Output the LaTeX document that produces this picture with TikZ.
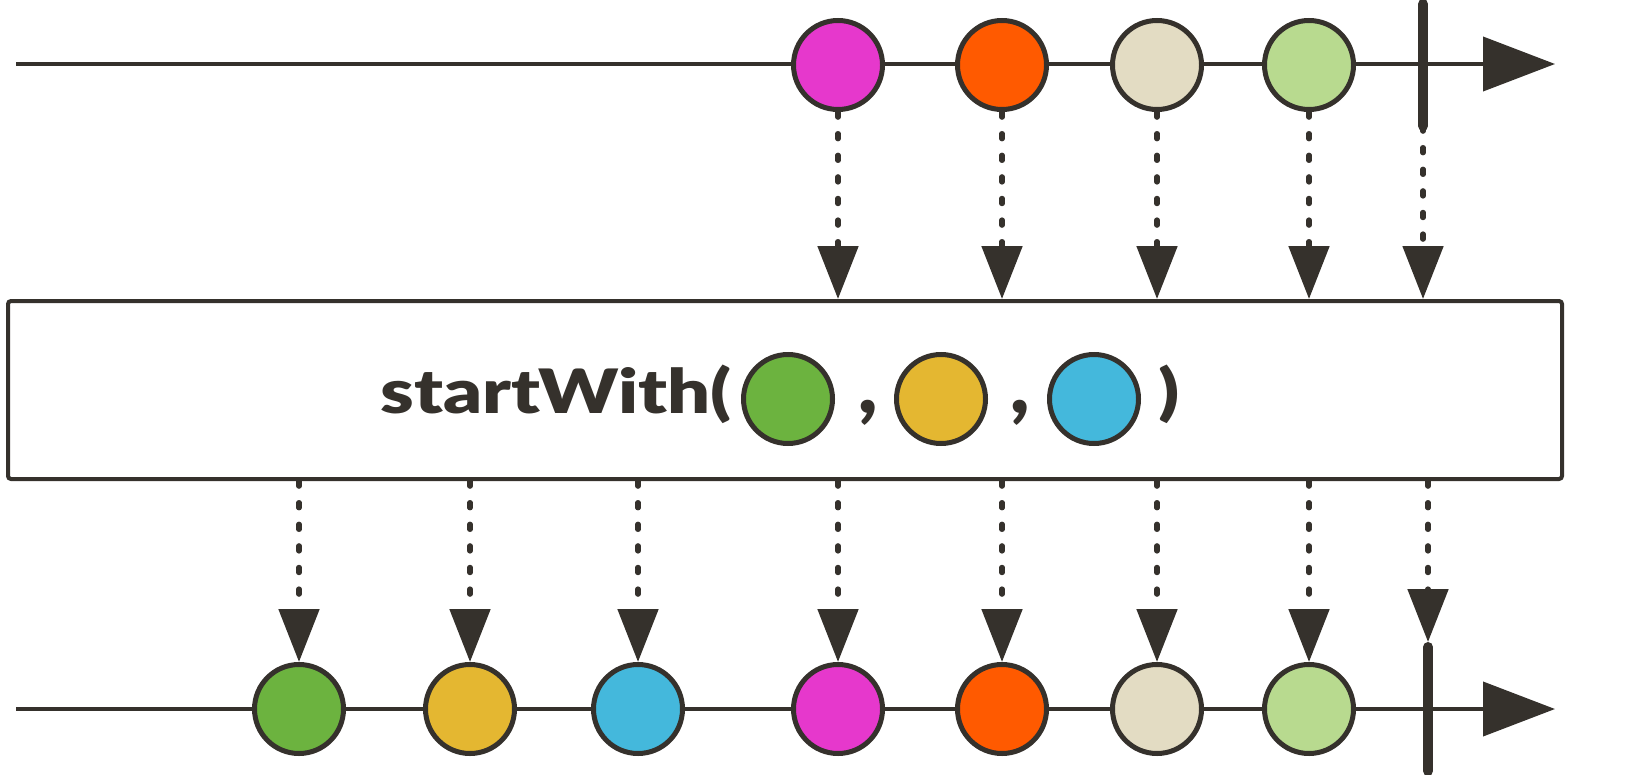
\documentclass[tikz,border=0pt]{standalone}
\usepackage{fontspec}
\setsansfont{Lato}[BoldFont={Lato Black}]
\usetikzlibrary{arrows.meta,positioning,calc}
\definecolor{ink}{HTML}{35312C}
\definecolor{pinkball}{HTML}{E638CC}
\definecolor{orangeball}{HTML}{FF5A00}
\definecolor{sandball}{HTML}{E3DCC3}
\definecolor{limeball}{HTML}{B8DA8F}
\definecolor{greenball}{HTML}{6CB33F}
\definecolor{yellowball}{HTML}{E4B731}
\definecolor{blueball}{HTML}{44B8DC}
\begin{document}
\begin{tikzpicture}[x=0.5pt,y=-0.5pt,ink,ball node/.style={circle,draw=ink,line width=2.5pt,minimum size=44.5pt,inner sep=0pt},time line/.style={line width=2pt,-{Triangle[length=36pt,width=27pt]}},stop line/.style={line width=5pt,line cap=round},flow line/.style={line width=2.6pt,line cap=round,dash pattern=on 2.6pt off 8.2pt,-{Triangle[length=26.5pt,width=20pt]}},op box/.style={draw=ink,line width=2pt,rounded corners=1.5pt,minimum width=777pt,minimum height=89pt,inner sep=0pt}]
\useasboundingbox (0,0) rectangle (1641,775);
\begin{scope}
\coordinate (s1) at (16,64);
\coordinate (e1) at (1555,64);
\coordinate (s2) at (16,709);
\coordinate (e2) at (1555,709);
\draw[time line] (s1) -- (e1);
\draw[time line] (s2) -- (e2);
\end{scope}
\begin{scope}[every node/.style={ball node}]
\node[fill=pinkball] (u1) at (838,65) {};
\node[fill=orangeball] (u2) at (1002,65) {};
\node[fill=sandball] (u3) at (1157,65) {};
\node[fill=limeball] (u4) at (1309,65) {};
\node[fill=greenball] (w1) at (299,709) {};
\node[fill=yellowball] (w2) at (470,709) {};
\node[fill=blueball] (w3) at (638,709) {};
\node[fill=pinkball] (w4) at (838,709) {};
\node[fill=orangeball] (w5) at (1002,709) {};
\node[fill=sandball] (w6) at (1157,709) {};
\node[fill=limeball] (w7) at (1309,709) {};
\end{scope}
\coordinate (ua) at (1423,4);
\coordinate (ub) at (1423,126);
\coordinate (wa) at (1428,647);
\coordinate (wb) at (1428,771);
\draw[stop line] (ua) -- (ub);
\draw[stop line] (wa) -- (wb);
\node[op box] (op) at (785,390) {};
\begin{scope}[every node/.style={font=\sffamily\bfseries\fontsize{30}{36}\selectfont,inner sep=0pt}]
\node[anchor=base east] (fn) at (732,413) {\scalebox{1.26}[1.02]{startWith(}};
\node[ball node,fill=greenball] (c1) at (788,399) {};
\node[anchor=base] (k1) at (868,413) {\scalebox{1.35}{,}};
\node[ball node,fill=yellowball] (c2) at (941,399) {};
\node[anchor=base] (k2) at (1020,413) {\scalebox{1.35}{,}};
\node[ball node,fill=blueball] (c3) at (1094,399) {};
\node[anchor=base west] (rp) at (1158,413) {\scalebox{1.26}[1.02]{)}};
\end{scope}
\begin{scope}
\draw[flow line] (u1) -- (u1 |- op.north);
\draw[flow line] (u2) -- (u2 |- op.north);
\draw[flow line] (u3) -- (u3 |- op.north);
\draw[flow line] (u4) -- (u4 |- op.north);
\draw[flow line] (ub) -- (ub |- op.north);
\draw[flow line] (w1 |- op.south) -- (w1);
\draw[flow line] (w2 |- op.south) -- (w2);
\draw[flow line] (w3 |- op.south) -- (w3);
\draw[flow line] (w4 |- op.south) -- (w4);
\draw[flow line] (w5 |- op.south) -- (w5);
\draw[flow line] (w6 |- op.south) -- (w6);
\draw[flow line] (w7 |- op.south) -- (w7);
\draw[flow line] (wa |- op.south) -- ($(wa)+(0,-5)$);
\end{scope}
\end{tikzpicture}
\end{document}
